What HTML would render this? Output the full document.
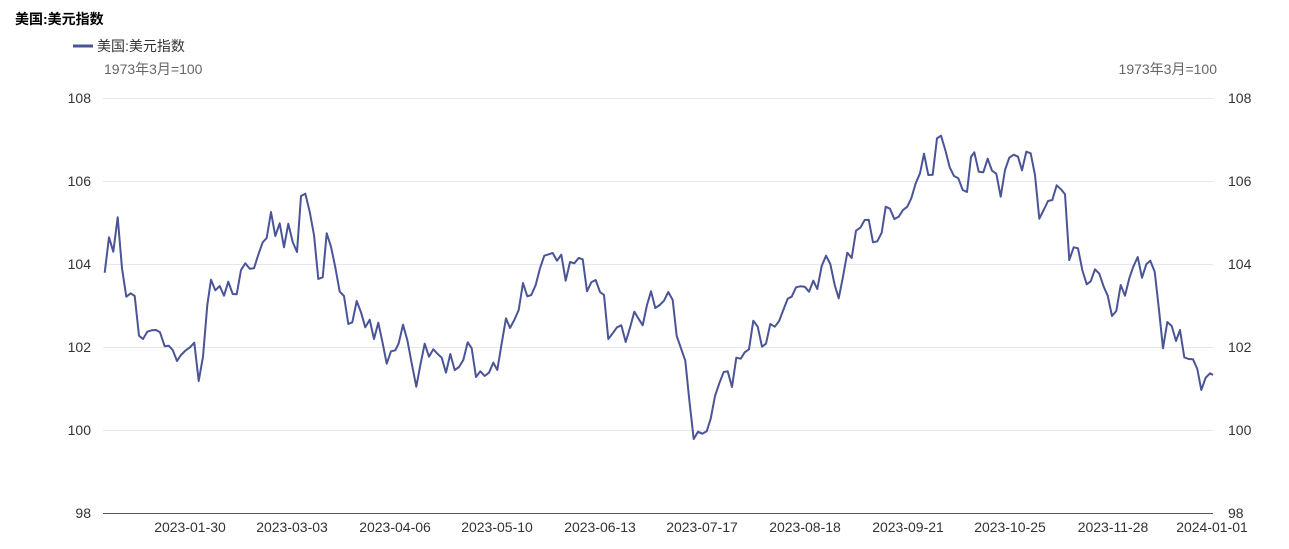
<!DOCTYPE html>
<html><head><meta charset="utf-8"><style>
body{margin:0;background:#fff;width:1289px;height:549px;overflow:hidden}
svg{display:block;font-family:"Liberation Sans","Noto Sans CJK SC",sans-serif}
</style></head><body>
<svg width="1289" height="549" viewBox="0 0 1289 549">
<text x="15" y="24" font-size="14" font-weight="bold" fill="#000">美国:美元指数</text>
<line x1="73" y1="46" x2="93" y2="46" stroke="#4a5496" stroke-width="3"/>
<text x="97" y="51" font-size="14" fill="#333">美国:美元指数</text>
<text x="104" y="74" font-size="14" fill="#666">1973年3月=100</text>
<text x="1217" y="74" font-size="14" fill="#666" text-anchor="end">1973年3月=100</text>
<g stroke="#e6e6f2" stroke-width="1">
<line x1="103" y1="98.5" x2="1213" y2="98.5"/>
<line x1="103" y1="181.5" x2="1213" y2="181.5"/>
<line x1="103" y1="264.5" x2="1213" y2="264.5"/>
<line x1="103" y1="347.5" x2="1213" y2="347.5"/>
<line x1="103" y1="430.5" x2="1213" y2="430.5"/>
</g>
<line x1="103" y1="513.5" x2="1213" y2="513.5" stroke="#555" stroke-width="1"/>
<g font-size="14" fill="#333" text-anchor="end">
<text x="91" y="103">108</text><text x="91" y="186">106</text><text x="91" y="269">104</text><text x="91" y="352">102</text><text x="91" y="435">100</text><text x="91" y="518">98</text>
</g>
<g font-size="14" fill="#333">
<text x="1228" y="103">108</text><text x="1228" y="186">106</text><text x="1228" y="269">104</text><text x="1228" y="352">102</text><text x="1228" y="435">100</text><text x="1228" y="518">98</text>
</g>
<g font-size="14" fill="#333" text-anchor="middle">
<text x="190" y="532">2023-01-30</text><text x="292" y="532">2023-03-03</text><text x="395" y="532">2023-04-06</text><text x="497" y="532">2023-05-10</text><text x="600" y="532">2023-06-13</text><text x="702" y="532">2023-07-17</text><text x="805" y="532">2023-08-18</text><text x="908" y="532">2023-09-21</text><text x="1010" y="532">2023-10-25</text><text x="1113" y="532">2023-11-28</text><text x="1212" y="532">2024-01-01</text>
</g>
<polyline fill="none" stroke="#4a5496" stroke-width="2" stroke-linejoin="round" points="
104.7,272.7 109,237.3 113.3,251.7 117.7,217.3 122,268.3 126.3,296.7 130.7,293.3 134.7,296 139,335.7 143,339 147.3,331.7 151.7,330.3 156,330 160,332.3 164.7,346.3 168.7,345.7 172.7,350 177,361 181,355 185.3,350.7 190,347.3 194.3,342.7 198.7,381 203,356.7 207.3,305 211,279.7 215.3,290.3 219.7,286 224,295.7 228.3,281.7 232.7,294 236.7,294.3 241,270 245.3,263.3 249.7,268.7 254,268.3 258.3,254.7 262.7,242.3 266.7,238 271,212 275.3,236 279.7,223.3 284,247.3 288.3,223.7 292.7,242 297,252 301,196 305.3,193.7 309.7,211.7 314,235 318.3,279 322.7,277.3 326.7,233.3 331,246.7 335.3,267.3 339.7,291.7 344,296 348.3,324 352.3,322.3 356.7,301 361,312.3 365.3,327.3 369.7,319.7 374,339 378.3,322.7 382.7,343.3 386.7,363.7 391,351.3 395.3,350.3 398.7,343.3 403,324.7 407.3,340 411.7,363.3 416.3,386.7 420.7,363.3 424.7,343.7 429,356.7 433.3,349.3 437.7,354 441.7,357.7 446,372.7 450.3,354 454.7,370 459,367 463.3,360 467.7,342.3 471.7,348.3 476,377 480.3,371.3 484.7,376 489,372.7 493.3,362.7 497.3,370 501.7,343.3 506,318.3 510,328 514.3,320 518.7,310 523,283 527.3,296.3 531.3,295 535.7,285 540,268.3 544.3,255.7 548.7,254.3 552.7,253 557,260.7 561.3,254.7 565.7,280.7 570,262 574.3,263.3 578.7,258 582.7,259.3 587,291.3 591.3,282.3 595.7,280 600,292 604,295 608.3,339 612.7,333.3 617,327.3 621.3,325.3 625.7,342 630,327.7 634.3,311.7 638.3,318.3 642.7,325.3 647,305 651,291.3 655.3,308 659.7,305 664,300.7 668.3,292 672.7,300 676.7,336 681,348.3 685.3,360.7 689.3,400 693.7,439 698,431.7 702.3,433.7 706.7,431.3 710.7,418.7 715,396 719.3,383.3 723.7,372 727.7,371.3 732,387 736.3,357.7 740.7,358.7 744.7,352.3 749,349.3 753.3,320.7 757.7,326.7 762,346.7 766,343.7 770.3,324 774.7,326.7 779,321.3 783.3,310 787.7,298.7 791.7,296.7 796,287.3 800.3,286.3 804.7,286.7 809,291.7 813.3,280.7 817.3,289 821.7,266 826,255.7 830.3,264 834.7,285 838.7,298.3 843,276.7 847.3,252.7 851.7,258 856,230.7 860.3,227.7 864.7,220 868.7,219.7 873,242.3 877.3,241.3 881.7,232.7 885.7,206.7 890,208.7 894.3,219 898.7,216.7 903,210 907.3,206.7 911.3,198.3 915.7,183.3 920,173.3 924,153.7 928.3,175 932.7,174.7 937,138.3 941,135.7 945.3,150 949.7,167.3 954,176 958.3,178.3 962.7,190 967,192 971,157 974.3,152.3 978.7,171.7 983.3,172.3 987.7,158.7 992,170.7 996.3,173.7 1000.7,196.7 1005,170 1009.3,157.7 1013.7,154.7 1018,156.7 1022,170.3 1026.3,151.7 1030.7,153.3 1035,175 1039.3,218.7 1043.7,210 1048,201 1052.3,200 1056.7,185.3 1061,189.3 1065,194.3 1069.3,260 1073.7,247.3 1078,248.3 1082.3,270 1086.7,284.3 1090.7,281.3 1095,269.3 1099.3,273.7 1103.7,286.7 1107.7,295.7 1112,316 1116.3,311 1120.7,285 1125,295.7 1129.3,278.3 1133.3,266.7 1137.7,257 1142,277.7 1146.3,264.3 1150.3,260.7 1154.7,271.7 1159,310 1163,348.3 1167.3,322 1171.7,326 1176,341 1180,330 1184.3,357.3 1188.7,359 1193,359.3 1197.3,369 1201.3,390 1205.7,377.7 1210,373.3 1213,375"/>
</svg>
</body></html>
